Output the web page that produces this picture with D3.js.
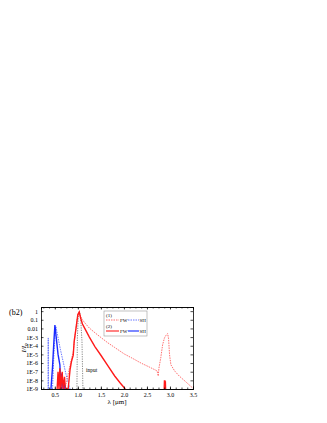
<!DOCTYPE html>
<html><head><meta charset="utf-8">
<script src="https://cdn.jsdelivr.net/npm/d3@7"></script>
<style>body{margin:0;background:#fff}svg{display:block}text{font-family:"Liberation Serif","DejaVu Serif",serif}</style>
</head><body>
<script>
// wavelength (um) and normalized intensity I/I0
const fw1X = [0.60,0.62,0.64,0.67,0.70,0.72,0.80,0.86,0.90,0.94,0.98,1.01,1.03,1.06,1.10,1.15,1.25,1.37,1.50,1.65,1.80,2.01,2.20,2.37,2.55,2.66,2.72,2.745,2.76,2.80,2.84,2.88,2.92,2.95,2.97,2.99,3.02,3.10,3.20,3.35,3.50];
const fw1Y = [1e-9,2.5e-8,1e-9,1e-8,1e-9,1e-9,1e-7,2.5e-6,2e-5,1.6e-3,0.1,0.5,0.63,0.25,0.1,0.045,0.011,3.2e-3,9e-4,2.2e-4,6.3e-5,1.1e-5,3.2e-6,1e-6,3.5e-7,1.8e-7,1.25e-7,3.2e-8,2.5e-7,4e-6,1.25e-4,8e-4,1.8e-3,2.5e-3,6.3e-4,1e-5,6.3e-7,1.25e-7,3.2e-8,6.3e-9,1.2e-9];
const fw2X = [0.55,0.57,0.59,0.61,0.63,0.66,0.68,0.71,0.73,0.79,0.83,0.86,0.90,0.92,0.97,1.00,1.03,1.06,1.10,1.15,1.25,1.37,1.50,1.65,1.80,1.92,2.03,null,2.875,2.88,2.885,2.89,2.895,2.90,2.905];
const fw2Y = [1e-9,1e-7,1e-9,2.5e-7,1e-9,1e-7,1e-9,2.5e-8,1e-9,1e-9,1.6e-7,1.4e-6,8e-6,3.2e-4,0.025,0.4,0.8,0.16,0.032,0.01,1e-3,8e-5,8e-6,5e-7,3.2e-8,5e-9,1e-9,null,1e-9,1e-8,1e-9,1e-8,1e-9,8e-9,1e-9];
const sh1X = [0.355,0.357,0.36,null,0.45,0.48,0.51,0.524,0.56,0.62,0.70,0.76,0.83];
const sh1Y = [1e-9,8e-4,1e-9,null,1e-9,1e-5,5e-3,0.016,1.6e-3,4e-5,5e-7,2e-8,1e-9];
const sh2X = [0.416,0.45,0.48,0.502,0.53,0.57,0.61,0.63,0.65,0.68,0.70,0.72];
const sh2Y = [1e-9,3.2e-7,3.2e-4,0.025,1e-3,1e-5,6.3e-7,1e-9,6.3e-8,1e-9,1e-8,1e-9];
const inX = [0.98,0.99,1.01,1.035,1.06,1.09,1.11];
const inY = [1e-9,1e-3,0.3,0.9,0.2,3e-4,1e-9];
const xTicks = [0.5,1.0,1.5,2.0,2.5,3.0,3.5];
const yTicks = [1,0.1,0.01,1e-3,1e-4,1e-5,1e-6,1e-7,1e-8,1e-9];
const yTickLabels = ["1","0.1","0.01","1E-3","1E-4","1E-5","1E-6","1E-7","1E-8","1E-9"];

const W=327,H=423;
const svg=d3.select("body").append("svg").attr("width",W).attr("height",H);
svg.append("rect").attr("width",W).attr("height",H).attr("fill","#fff");
const L=41,R=193,T=307,B=389;
const x=d3.scaleLinear().domain([0.2,3.5]).range([L,R]);
const y=d3.scaleLog().domain([1e-9,3]).range([B,T]);

svg.append("clipPath").attr("id","c").append("rect").attr("x",L).attr("y",T).attr("width",R-L).attr("height",B-T);
const g=svg.append("g").attr("clip-path","url(#c)");
function pts(xs,ys){return xs.map((v,i)=>[v,ys[i]]);}
const line=d3.line().defined(d=>d[0]!==null).x(d=>x(d[0])).y(d=>y(d[1]));
g.append("path").datum(pts(inX,inY)).attr("d",line).attr("fill","none").attr("stroke","#555").attr("stroke-width",0.7).attr("stroke-dasharray","1.2,1.2");
g.append("path").datum(pts(sh1X,sh1Y)).attr("d",line).attr("fill","none").attr("stroke","#4455ff").attr("stroke-width",0.8).attr("stroke-dasharray","1.5,1");
g.append("path").datum(pts(fw1X,fw1Y)).attr("d",line).attr("fill","none").attr("stroke","#ff4d4d").attr("stroke-width",0.8).attr("stroke-dasharray","1.5,1");
g.append("path").datum(pts(sh2X,sh2Y)).attr("d",line).attr("fill","none").attr("stroke","#1a2aff").attr("stroke-width",1.4);
g.append("path").datum(pts(fw2X,fw2Y)).attr("d",line).attr("fill","none").attr("stroke","#ff1a1a").attr("stroke-width",1.4);

// axes
const fs=6;
const xb=svg.append("g").attr("transform",`translate(0,${B})`).call(d3.axisBottom(x).tickValues(xTicks).tickFormat(d3.format(".1f")).tickSize(-2.5).tickPadding(4));
const xbm=svg.append("g").attr("transform",`translate(0,${B})`).call(d3.axisBottom(x).tickValues(d3.range(0.25,3.5,0.125)).tickFormat("").tickSize(-1.5));
const xt=svg.append("g").attr("transform",`translate(0,${T})`).call(d3.axisTop(x).tickValues(xTicks).tickFormat("").tickSize(-2.5));
const xtm=svg.append("g").attr("transform",`translate(0,${T})`).call(d3.axisTop(x).tickValues(d3.range(0.25,3.5,0.125)).tickFormat("").tickSize(-1.5));
const yl=svg.append("g").attr("transform",`translate(${L},0)`).call(d3.axisLeft(y).tickValues(yTicks).tickFormat((d,i)=>yTickLabels[i]).tickSize(-2.5).tickPadding(3));
const yr=svg.append("g").attr("transform",`translate(${R},0)`).call(d3.axisRight(y).tickValues(yTicks).tickFormat("").tickSize(-2.5));
[xb,xbm,xt,xtm,yl,yr].forEach(a=>{a.select(".domain").attr("stroke","#000").attr("stroke-width",0.8);a.selectAll("line").attr("stroke","#000").attr("stroke-width",0.7);a.selectAll("text").attr("font-size",fs).attr("fill","#000").attr("font-family","Liberation Serif");});

svg.append("text").attr("x",117).attr("y",404).attr("text-anchor","middle").attr("font-size",7).text("λ [μm]");
svg.append("text").attr("transform","translate(26,348) rotate(-90)").attr("text-anchor","middle").attr("font-size",7).attr("font-style","italic").html('I/I<tspan font-size="5" dy="1.5">0</tspan>');
svg.append("text").attr("x",9).attr("y",315).attr("font-size",8).text("(b2)");
svg.append("text").attr("x",86).attr("y",372).attr("font-size",5.5).text("input");

// legend
const lg=svg.append("g");
lg.append("rect").attr("x",104).attr("y",311).attr("width",43).attr("height",25).attr("fill","#fff").attr("stroke","#999").attr("stroke-width",0.6);
lg.append("text").attr("x",106).attr("y",317).attr("font-size",5).text("(1)");
lg.append("text").attr("x",106).attr("y",328).attr("font-size",5).text("(2)");
const rows=[{yy:320,dash:"1.5,1",w:0.8},{yy:331,dash:null,w:1.4}];
rows.forEach(r=>{
  lg.append("line").attr("x1",106).attr("x2",119).attr("y1",r.yy).attr("y2",r.yy).attr("stroke","#ff4d4d").attr("stroke-width",r.w).attr("stroke-dasharray",r.dash);
  lg.append("text").attr("x",120).attr("y",r.yy+1.8).attr("font-size",5).text("FW");
  lg.append("line").attr("x1",128).attr("x2",139).attr("y1",r.yy).attr("y2",r.yy).attr("stroke","#4455ff").attr("stroke-width",r.w).attr("stroke-dasharray",r.dash);
  lg.append("text").attr("x",139.5).attr("y",r.yy+1.8).attr("font-size",5).text("SH");
});
</script>
</body></html>
